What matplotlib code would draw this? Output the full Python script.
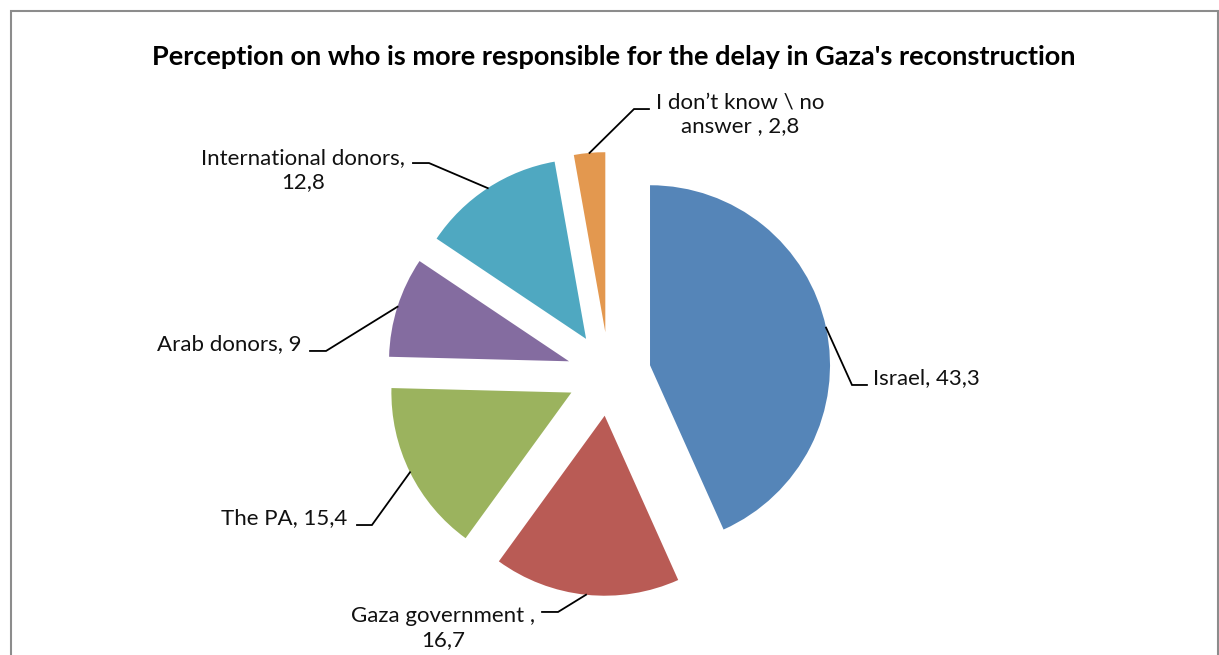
import numpy as np
import matplotlib
matplotlib.use("Agg")
import matplotlib.pyplot as plt
from matplotlib.patches import Rectangle

# ======================
# DATA
# ======================
categories = ["Israel", "Gaza government ", "The PA", "Arab donors",
              "International donors", "I don\u2019t know \\ no answer "]
values = [43.3, 16.7, 15.4, 9, 12.8, 2.8]
value_labels = ["43,3", "16,7", "15,4", "9", "12,8", "2,8"]
label_texts = ["Israel, 43,3",
               "Gaza government ,\n16,7",
               "The PA, 15,4",
               "Arab donors, 9",
               "International donors,\n12,8",
               "I don\u2019t know \\ no\nanswer , 2,8"]
colors = ["#5585b8", "#b95b55", "#9bb35e", "#846ca0", "#4fa8c1", "#e3984f"]

title = "Perception on who is more responsible for the delay in Gaza's reconstruction"

# ======================
# LAYOUT (label elbows, line ends, text anchors in pie units)
# ======================
explode_r = 0.233
elbows = [(1.350, -0.061), (-0.283, -1.322), (-1.317, -0.839),
          (-1.572, 0.128), (-1.000, 1.172), (0.139, 1.472)]
line_ends = [(1.433, -0.061), (-0.372, -1.322), (-1.400, -0.839),
             (-1.661, 0.128), (-1.089, 1.172), (0.222, 1.472)]
text_pos = [(1.467, -0.025), (-0.922, -1.411), (-1.456, -0.800),
            (-1.706, 0.165), (-1.700, 1.133), (0.728, 1.444)]
text_ha = ["left", "center", "right", "right", "center", "center"]

plt.rcParams["font.family"] = ["Lato", "DejaVu Sans"]

W, H = 1219, 655
fig = plt.figure(figsize=(W / 100, H / 100), dpi=100)
ax = fig.add_axes([0, 0, 1, 1])

# pie centre in pixels and radius in pixels
cx, cy, rad = 609, 374, 180

wedges, _ = ax.pie(
    values,
    colors=colors,
    startangle=90,
    counterclock=False,
    explode=[explode_r] * len(values),
    radius=1,
    wedgeprops=dict(linewidth=0),
)

ax.set_aspect("auto")
ax.set_xlim(-cx / rad, (W - cx) / rad)
ax.set_ylim(-(H - cy) / rad, cy / rad)
ax.axis("off")

# leader lines + labels
for i, w in enumerate(wedges):
    mid = np.deg2rad((w.theta1 + w.theta2) / 2)
    ax0 = (1 + explode_r) * np.cos(mid)
    ay0 = (1 + explode_r) * np.sin(mid)
    ex, ey = elbows[i]
    lx, ly = line_ends[i]
    ax.plot([ax0, ex, lx], [ay0, ey, ly], color="black", linewidth=1.3,
            solid_joinstyle="miter")
    tx, ty = text_pos[i]
    ax.text(tx, ty, label_texts[i], ha=text_ha[i], va="center",
            multialignment="center", fontsize=16, color="#111111",
            linespacing=1.22)

fig.text(614 / W, 1 - 57 / H, title, ha="center", va="center",
         fontsize=19.5, fontweight="bold", color="black")

# chart frame
fig.patches.append(Rectangle((11 / W, -0.05), (1218 - 11) / W, 1.05 - 11 / H,
                             transform=fig.transFigure, fill=False,
                             edgecolor="#8c8c8c", linewidth=1.5))

fig.savefig("out.png", dpi=100)
